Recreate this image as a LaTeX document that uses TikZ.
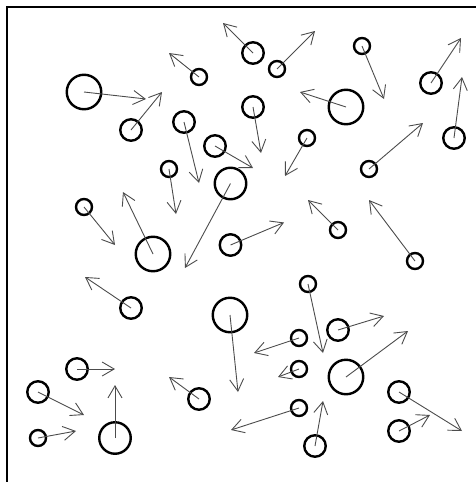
\documentclass[tikz,border=0pt]{standalone}
\usetikzlibrary{arrows.meta}
\begin{document}
\begin{tikzpicture}[x=1pt,y=-1pt,
  ball/.style={circle,draw=black,line width=2.4pt,inner sep=0pt,outer sep=0pt},
  sm/.style={ball,minimum size=16pt},
  md/.style={ball,minimum size=21.5pt},
  ml/.style={ball,minimum size=31.5pt},
  lg/.style={ball,minimum size=34.5pt},
  vel/.style={draw=black!70,line width=0.9pt,-{Straight Barb[length=12pt,width=14pt]}},
  frame/.style={draw=black,line width=2pt}]
\useasboundingbox (0,0) rectangle (476,482);
\coordinate (f1) at (476,7);
\coordinate (f2) at (7,7);
\coordinate (f3) at (7,482);
\draw[frame] (f1) -- (f2) -- (f3);
% circles
\node[lg] (c1) at (84,92) {};
\node[sm] (c2) at (199,77) {};
\node[md] (c3) at (131,130) {};
\node[md] (c4) at (184,122) {};
\node[md] (c5) at (215,146) {};
\node[sm] (c6) at (169,169) {};
\node[ml] (c7) at (230.5,183.5) {};
\node[sm] (c8) at (84,207) {};
\node[lg] (c9) at (153,254) {};
\node[md] (c10) at (253,53) {};
\node[sm] (c11) at (277,69) {};
\node[sm] (c12) at (362,46) {};
\node[md] (c13) at (431,83) {};
\node[md] (c14) at (454,138) {};
\node[lg] (c15) at (346,107) {};
\node[md] (c16) at (253,107) {};
\node[sm] (c17) at (307,138) {};
\node[sm] (c18) at (369,169) {};
\node[sm] (c19) at (338,230) {};
\node[sm] (c20) at (415,261) {};
\node[md] (c21) at (230.5,245) {};
\node[md] (c22) at (131,308) {};
\node[lg] (c23) at (230,315) {};
\node[md] (c24) at (77,369) {};
\node[md] (c25) at (38,392) {};
\node[sm] (c26) at (38,438) {};
\node[ml] (c27) at (115,438) {};
\node[md] (c28) at (199,399) {};
\node[sm] (c29) at (308,284) {};
\node[md] (c30) at (338,330) {};
\node[sm] (c31) at (299,338) {};
\node[sm] (c32) at (299,369) {};
\node[lg] (c33) at (346,377) {};
\node[sm] (c34) at (299,408) {};
\node[md] (c35) at (315,446) {};
\node[md] (c36) at (399,392) {};
\node[md] (c37) at (399,431) {};
% arrow tips
\coordinate (t1) at (146,99);
\coordinate (t2) at (169,53);
\coordinate (t3) at (162,92);
\coordinate (t4) at (199,183);
\coordinate (t5) at (253,168);
\coordinate (t6) at (176,214);
\coordinate (t7) at (185,268);
\coordinate (t8) at (115,245);
\coordinate (t9) at (123,192);
\coordinate (t10) at (223,23);
\coordinate (t11) at (315,31);
\coordinate (t12) at (384,99);
\coordinate (t13) at (461,38);
\coordinate (t14) at (462,77);
\coordinate (t15) at (300,92);
\coordinate (t16) at (261,153);
\coordinate (t17) at (285,176);
\coordinate (t18) at (423,123);
\coordinate (t19) at (308,200);
\coordinate (t20) at (369,200);
\coordinate (t21) at (284,222.5);
\coordinate (t22) at (85,277);
\coordinate (t23) at (238,392);
\coordinate (t24) at (115,369);
\coordinate (t25) at (84,415);
\coordinate (t26) at (76,431);
\coordinate (t27) at (115,385);
\coordinate (t28) at (169,377);
\coordinate (t29) at (323,353);
\coordinate (t30) at (384,316);
\coordinate (t31) at (254,353);
\coordinate (t32) at (278,377);
\coordinate (t33) at (408,331);
\coordinate (t34) at (231,430);
\coordinate (t35) at (323,401);
\coordinate (t36) at (462,431);
\coordinate (t37) at (430,415);
\foreach \i in {1,...,37} {\draw[vel] (c\i.center) -- (t\i);}
\end{tikzpicture}
\end{document}
